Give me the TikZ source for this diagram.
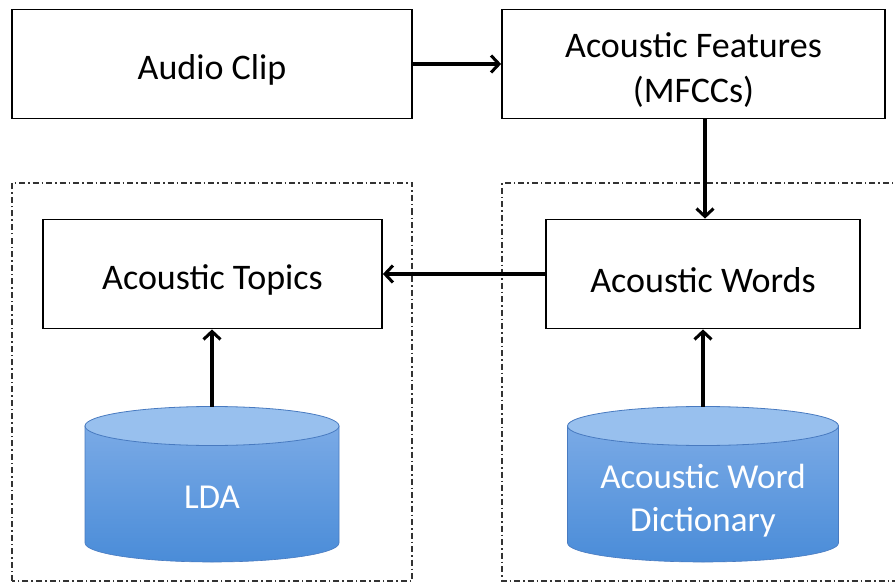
\documentclass[tikz,border=0pt]{standalone}
\usepackage{fontspec}
\setmainfont{Carlito}
\usetikzlibrary{arrows.meta}
\definecolor{cyltop}{RGB}{152,192,238}
\definecolor{cylupper}{RGB}{122,170,230}
\definecolor{cyllower}{RGB}{74,140,216}
\definecolor{cyledge}{RGB}{72,122,192}
\tikzset{
  stage/.style={draw=black, line width=1.8pt, fill=white, minimum width=#1, minimum height=109pt,
    inner sep=0pt},
  stagetext/.style={align=center, font=\fontsize{36}{45}\selectfont, yshift=-6pt},
  flow/.style={line width=3.2pt, -{Straight Barb[length=8pt,width=17pt,line width=3pt]}},
  group/.style={draw=black!80, line width=1.1pt, dash pattern=on 6pt off 3pt on 1.5pt off 3pt},
  cyllabel/.style={text=white, align=center, font=\fontsize{35}{43}\selectfont},
}
\begin{document}
\begin{tikzpicture}[x=1pt,y=-1pt]
\useasboundingbox (0,0) rectangle (895,583);
\fill[white] (0,0) rectangle (895,583);

% dash-dot grouping frames
\draw[group] (12,581) -- (12,183) -- (412,183) -- (412,581) -- cycle;
\draw[group] (902,183) -- (502,183) -- (502,581) -- (902,581);

% processing stages
\node[stage=400pt, label={[stagetext]center:Audio Clip}] (clip) at (212,64) {};
\node[stage=383pt, label={[stagetext]center:Acoustic Features\\(MFCCs)}] (feat) at (693.5,64) {};
\node[stage=339pt, label={[stagetext]center:Acoustic Topics}] (topics) at (212.5,274) {};
\node[stage=314pt, label={[stagetext]center:Acoustic Words}] (words) at (703,274) {};

% cylinder stores
\foreach \cx/\rx/\nm in {212/127/lda, 703/135.5/dict}{
  \shade[top color=cylupper, bottom color=cyllower, draw=cyledge, line width=0.6pt]
    (\cx-\rx,426) -- (\cx-\rx,543) arc[start angle=180, end angle=0, x radius=\rx, y radius=19]
    -- (\cx+\rx,426) -- cycle;
  \draw[fill=cyltop, draw=cyledge, line width=0.8pt] (\cx,426) ellipse[x radius=\rx, y radius=19.5];
  \coordinate (\nm top) at (\cx,406.5);
}
\node[cyllabel] (lda) at (212,497) {LDA};
\node[cyllabel] (dict) at (703,501) {Acoustic Word\\Dictionary};

% data flow
\draw[flow] (clip) -- (feat);
\draw[flow] (feat.south -| 705,0) -- (words.north -| 705,0);
\draw[flow] (words) -- (topics);
\draw[flow] (ldatop) -- (topics.south -| ldatop);
\draw[flow] (dicttop) -- (words.south -| dicttop);
\end{tikzpicture}
\end{document}
